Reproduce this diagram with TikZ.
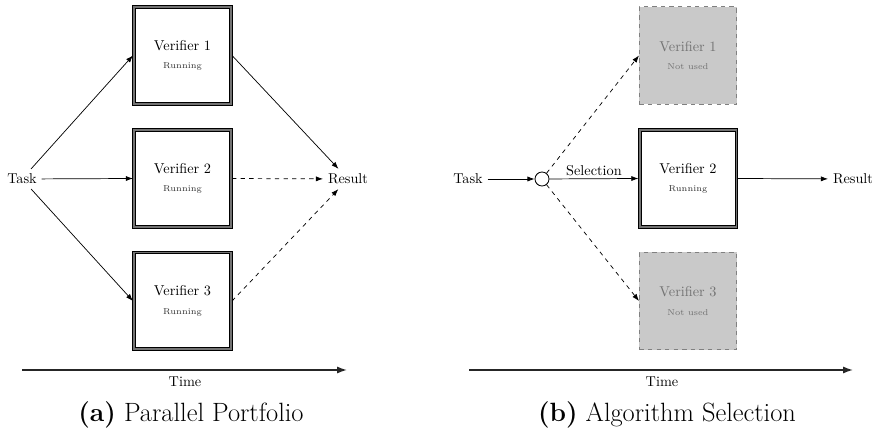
\documentclass[tikz,border=0pt]{standalone}
\usepackage{fontspec}
\usetikzlibrary{arrows.meta,backgrounds}
\begin{document}
\begin{tikzpicture}[x=0.7pt,y=-0.7pt,
  arr/.style={-{Latex[length=5pt,width=3.6pt]}, line width=0.5pt},
  darr/.style={arr, dashed},
  vbox/.style={minimum width=69pt, minimum height=69pt, align=center, inner sep=0pt, font=\fontsize{10}{12}\selectfont},
  offbox/.style={draw=black!50, dashed, fill=black!21, line width=0.6pt, minimum width=68pt, minimum height=68pt, align=center, inner sep=0pt, text=black!55, font=\fontsize{10}{12}\selectfont},
  outerframe/.style={draw=black, fill=black!55, line width=0.7pt},
  innerframe/.style={draw=black, fill=white, line width=0.5pt},
  lbl/.style={font=\fontsize{10}{12}\selectfont, inner sep=3.3pt},
  circ/.style={draw, circle, line width=0.6pt, minimum size=9.8pt, inner sep=0pt},
  axis/.style={-{Latex[length=7pt,width=5pt]}, line width=1pt, draw=black!85},
  captext/.style={font=\fontsize{18.5}{22}\selectfont}
]
\useasboundingbox (0,0) rectangle (878,430);
\newcommand{\subl}[1]{\\[1pt]{\fontsize{6}{7}\selectfont\color{black!80}\addfontfeature{LetterSpace=6}#1}}
\newcommand{\subo}[1]{\\[1pt]{\fontsize{6}{7}\selectfont\addfontfeature{LetterSpace=6}#1}}
\newcommand{\frm}[1]{%
  \draw[outerframe] (#1.south west) rectangle (#1.north east);
  \draw[innerframe] ([shift={(1.7pt,2.1pt)}]#1.south west) rectangle ([shift={(-1.7pt,-1.5pt)}]#1.north east);}
% ---------- (a) ----------
\node[vbox] (a1) at (182.5,55.5) {Verifier 1\subl{Running}};
\node[vbox] (a2) at (182.5,178.5) {Verifier 2\subl{Running}};
\node[vbox] (a3) at (182.5,301) {Verifier 3\subl{Running}};
\begin{scope}[on background layer]
\frm{a1}\frm{a2}\frm{a3}
\end{scope}
\node[lbl] (atask) at (22,179) {Task};
\node[lbl] (ares) at (348,179) {Result};
\draw[arr] (atask) -- (a1.west);
\draw[arr] (atask) -- (a2.west);
\draw[arr] (atask) -- (a3.west);
\draw[arr] (a1.east) -- (ares);
\draw[darr] (a2.east) -- (ares);
\draw[darr] (a3.east) -- (ares);
\coordinate (at0) at (22,370);
\coordinate (at1) at (347,370);
\draw[axis] (at0) -- (at1);
\node[lbl] (atime) at (185,382) {Time};
\node[captext] (acap) at (191,415) {\textbf{(a)} Parallel Portfolio};
% ---------- (b) ----------
\node[offbox] (b1) at (688,55.5) {Verifier 1\subo{Not used}};
\node[vbox] (b2) at (688,178.5) {Verifier 2\subl{Running}};
\begin{scope}[on background layer]
\frm{b2}
\end{scope}
\node[offbox] (b3) at (688,301) {Verifier 3\subo{Not used}};
\node[lbl] (btask) at (468,179) {Task};
\node[circ] (bsel) at (542,179) {};
\node[lbl] (bres) at (853,179) {Result};
\draw[arr] (btask) -- (bsel);
\draw[arr] (bsel) -- node[lbl, above, inner sep=2pt] {Selection} (b2.west);
\draw[darr] (bsel) -- (b1.west);
\draw[darr] (bsel) -- (b3.west);
\draw[arr] (b2.east) -- (bres);
\coordinate (bt0) at (469,370);
\coordinate (bt1) at (853,370);
\draw[axis] (bt0) -- (bt1);
\node[lbl] (btime) at (662,382) {Time};
\node[captext] (bcap) at (667,415) {\textbf{(b)} Algorithm Selection};
\end{tikzpicture}
\end{document}
